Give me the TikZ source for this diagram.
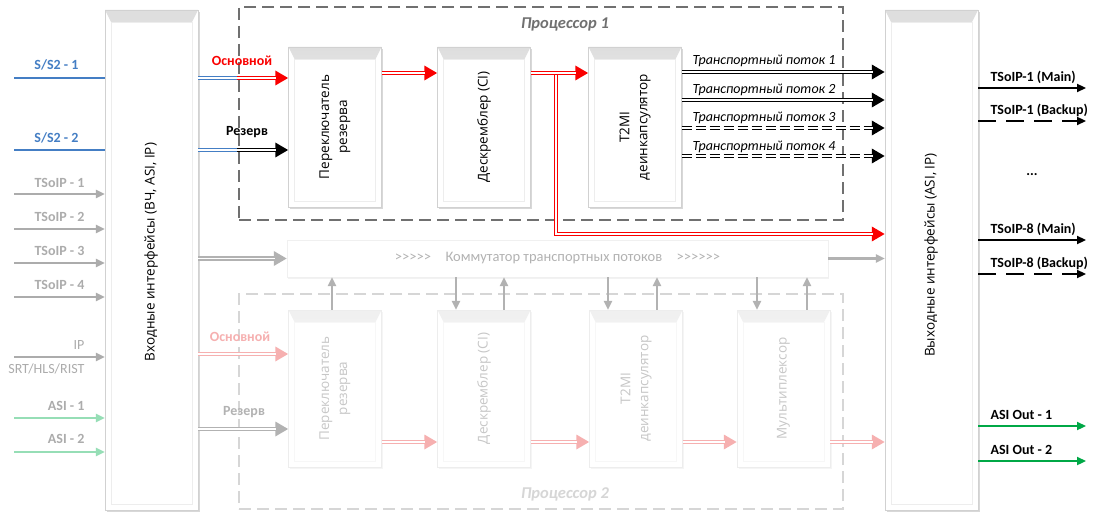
\documentclass[tikz,border=0pt]{standalone}
\usepackage{fontspec}
\setmainfont{Carlito}
\newfontfamily\blockfont{Open Sans}
\usepackage{tikz}
\usetikzlibrary{arrows.meta,shadows}

\definecolor{ssblue}{RGB}{68,126,196}
\definecolor{tsgray}{RGB}{172,172,172}
\definecolor{asigreen}{RGB}{150,222,182}
\definecolor{outgreen}{RGB}{0,168,70}
\definecolor{mainred}{RGB}{250,0,0}
\definecolor{fadered}{RGB}{246,176,176}
\definecolor{procgray}{RGB}{112,112,112}
\definecolor{procfade}{RGB}{214,214,214}

\begin{document}
\begin{tikzpicture}[x=1pt,y=-1pt,
    boxbase/.style={fill=white,minimum width=93pt,minimum height=160pt,inner sep=0pt},
    bevel/.style 2 args={path picture={
        \shade[top color=#1,bottom color=white]
          (path picture bounding box.north west) -- (path picture bounding box.north east)
          -- ([xshift=-6pt,yshift=-12pt]path picture bounding box.north east)
          -- ([xshift=6pt,yshift=-12pt]path picture bounding box.north west) -- cycle;
        \draw[#2] ([xshift=6pt,yshift=-12pt]path picture bounding box.north west)
          rectangle ([xshift=-6pt,yshift=6pt]path picture bounding box.south east);
      }},
    blk/.style={boxbase,draw=black!18,bevel={black!13}{black!7},
      drop shadow={shadow xshift=1.5pt,shadow yshift=-2pt,opacity=.3}},
    blkfade/.style={boxbase,draw=black!7,bevel={black!6}{black!3},
      drop shadow={shadow xshift=1.5pt,shadow yshift=-2pt,opacity=.08}},
    blktxt/.style={rotate=90,align=center,font=\blockfont\fontsize{13.5}{18}\selectfont},
    proc/.style={minimum width=604pt,dash pattern=on 12pt off 6pt,line width=2pt},
    lab/.style={font=\bfseries\fontsize{14}{16}\selectfont},
    slab/.style={font=\itshape\fontsize{14}{16}\selectfont},
    dblarr/.style={draw=#1,line width=4.4pt,-{Triangle[length=13pt,width=14pt]},
      postaction={draw=white,line width=1.6pt,-,shorten >=12pt}},
    dblline/.style={draw=#1,line width=4.4pt,
      postaction={draw=white,line width=1.6pt}},
    garr/.style={draw=#1,line width=2.4pt,-{Triangle[length=9pt,width=8pt]}},
    oarr/.style={draw=#1,line width=2.2pt,-{Triangle[length=9pt,width=8pt]}},
]
\fill[white] (0,0) rectangle (1105,513);
\useasboundingbox (0,0) rectangle (1105,513);

% processors
\node[proc,draw=procgray,minimum height=213pt] (proc1) at (541,113.5) {};
\node[proc,draw=procfade,minimum height=215pt] (proc2) at (541,401.5) {};
\node[text=procgray,font=\bfseries\itshape\fontsize{16.5}{18}\selectfont] (p1lab) at (565,24) {Процессор 1};
\node[text=procfade,font=\bfseries\itshape\fontsize{16.5}{18}\selectfont] (p2lab) at (565,494) {Процессор 2};

% interfaces
\node[blk,minimum height=500pt] (inif) at (151.5,260) {};
\node[blktxt] at (151,252) {Входные интерфейсы (ВЧ, ASI, IP)};
\node[blk,minimum height=500pt] (outif) at (931.5,260) {};
\node[blktxt] at (931,255) {Выходные интерфейсы (ASI, IP)};

% processor 1 blocks
\node[blk] (sw1) at (335,127) {};
\node[blktxt] at (sw1) {Переключатель\\резерва};
\node[blk] (dsc1) at (484,127) {};
\node[blktxt] at (dsc1) {Дескремблер (CI)};
\node[blk] (t2m1) at (635,127) {};
\node[blktxt] at (t2m1) {T2MI\\деинкапсулятор};

% commutator
\node[fill=white,draw=black!6,minimum width=541pt,minimum height=37pt,
  drop shadow={shadow xshift=1pt,shadow yshift=-2pt,opacity=.1},
  text=black!30,font=\fontsize{14.5}{16}\selectfont] (comm) at (557.5,258.5)
  {>{}>{}>{}>{}>\quad Коммутатор транспортных потоков\quad >{}>{}>{}>{}>{}>};

% processor 2 blocks
\node[blkfade,minimum height=157pt] (sw2) at (335,388.5) {};
\node[blktxt,text=black!22] at (sw2) {Переключатель\\резерва};
\node[blkfade,minimum height=157pt] (dsc2) at (484,388.5) {};
\node[blktxt,text=black!22] at (dsc2) {Дескремблер (CI)};
\node[blkfade,minimum height=157pt] (t2m2) at (636,388.5) {};
\node[blktxt,text=black!22] at (t2m2) {T2MI\\деинкапсулятор};
\node[blkfade,minimum height=157pt] (mux2) at (783.5,388.5) {};
\node[blktxt,text=black!22] at (mux2) {Мультиплексор};

% inputs
\coordinate (s1) at (14,78);
\coordinate (s2) at (14,150);
\node[lab,text=ssblue,anchor=east] (ls1) at (82,65) {S/S2 - 1};
\draw[ssblue,line width=2.4pt] (s1) -- (inif.west |- s1);
\node[lab,text=ssblue,anchor=east] (ls2) at (82,138) {S/S2 - 2};
\draw[ssblue,line width=2.4pt] (s2) -- (inif.west |- s2);

\coordinate (t1) at (14,194);
\coordinate (t2) at (14,229);
\coordinate (t3) at (14,263);
\coordinate (t4) at (14,297);
\node[lab,text=tsgray,anchor=east] (lt1) at (88,183) {TSoIP - 1};
\draw[garr=tsgray] (t1) -- (inif.west |- t1);
\node[lab,text=tsgray,anchor=east] (lt2) at (88,217) {TSoIP - 2};
\draw[garr=tsgray] (t2) -- (inif.west |- t2);
\node[lab,text=tsgray,anchor=east] (lt3) at (88,251) {TSoIP - 3};
\draw[garr=tsgray] (t3) -- (inif.west |- t3);
\node[lab,text=tsgray,anchor=east] (lt4) at (88,285) {TSoIP - 4};
\draw[garr=tsgray] (t4) -- (inif.west |- t4);

\coordinate (ip) at (14,357);
\node[lab,text=tsgray,anchor=east,font=\fontsize{14}{16}\selectfont] (lip) at (88,345) {IP};
\node[lab,text=tsgray,anchor=east,font=\fontsize{14}{16}\selectfont] (lsrt) at (88,369) {SRT/HLS/RIST};
\draw[garr=tsgray] (ip) -- (inif.west |- ip);

\coordinate (a1) at (14,418);
\coordinate (a2) at (14,452);
\node[lab,text=tsgray,anchor=east] (la1) at (88,406) {ASI - 1};
\draw[garr=asigreen] (a1) -- (inif.west |- a1);
\node[lab,text=tsgray,anchor=east] (la2) at (88,439) {ASI - 2};
\draw[garr=asigreen] (a2) -- (inif.west |- a2);

% processor 1 flow
\coordinate (msplit) at (237,78);
\coordinate (rsplit) at (237,150);
\draw[dblline=ssblue] (inif.east |- msplit) -- (msplit);
\draw[dblarr=mainred] (msplit) -- (sw1.west |- msplit);
\node[lab,text=mainred] (lmain1) at (242,61) {Основной};
\draw[dblline=ssblue] (inif.east |- rsplit) -- (rsplit);
\draw[dblarr=black] (rsplit) -- (sw1.west |- rsplit);
\node[lab] (lres1) at (247,132) {Резерв};

\coordinate (branch) at (556,73);
\draw[dblarr=mainred] (branch) |- (outif.west |- 0,234);
\draw[dblarr=mainred] (sw1.east |- 0,73) -- (dsc1.west |- 0,73);
\draw[dblarr=mainred] (dsc1.east |- 0,73) -- (t2m1.west |- 0,73);

\draw[dblarr=black] (t2m1.east |- 0,72) -- (outif.west |- 0,72);
\node[slab] (ts1) at (764,61) {Транспортный поток 1};
\draw[dblarr=black] (t2m1.east |- 0,100) -- (outif.west |- 0,100);
\node[slab] (ts2) at (764,90) {Транспортный поток 2};
\draw[dblarr=black,dash pattern=on 10pt off 4pt] (t2m1.east |- 0,128) -- (outif.west |- 0,128);
\node[slab] (ts3) at (764,118) {Транспортный поток 3};
\draw[dblarr=black,dash pattern=on 10pt off 4pt] (t2m1.east |- 0,156) -- (outif.west |- 0,156);
\node[slab] (ts4) at (764,147) {Транспортный поток 4};

% commutator flow
\draw[dblarr=black!30] (inif.east |- comm.west) -- (comm.west);
\draw[garr=black!30] (comm.east) -- (outif.west |- comm.east);

% processor 2 flow
\draw[dblarr=fadered] (inif.east |- 0,354) -- (sw2.west |- 0,354);
\node[lab,text=fadered] (lmain2) at (240,337) {Основной};
\draw[dblarr=black!30] (inif.east |- 0,429) -- (sw2.west |- 0,429);
\node[lab,text=black!30] (lres2) at (244,412) {Резерв};
\draw[dblarr=fadered] (sw2.east |- 0,442) -- (dsc2.west |- 0,442);
\draw[dblarr=fadered] (dsc2.east |- 0,442) -- (t2m2.west |- 0,442);
\draw[dblarr=fadered] (t2m2.east |- 0,442) -- (mux2.west |- 0,442);
\draw[dblarr=fadered] (mux2.east |- 0,442) -- (outif.west |- 0,442);

\draw[garr=black!30] (sw2.north -| 332,0) -- (comm.south -| 332,0);
\draw[garr=black!30] (comm.south -| 456,0) -- (dsc2.north -| 456,0);
\draw[garr=black!30] (dsc2.north -| 504,0) -- (comm.south -| 504,0);
\draw[garr=black!30] (comm.south -| 608,0) -- (t2m2.north -| 608,0);
\draw[garr=black!30] (t2m2.north -| 657,0) -- (comm.south -| 657,0);
\draw[garr=black!30] (comm.south -| 757,0) -- (mux2.north -| 757,0);
\draw[garr=black!30] (mux2.north -| 807,0) -- (comm.south -| 807,0);

% outputs
\coordinate (o1) at (1086,88);
\coordinate (o2) at (1086,121);
\coordinate (o8) at (1086,240);
\coordinate (o9) at (1086,274);
\coordinate (g1) at (1086,426);
\coordinate (g2) at (1086,461);
\node[lab,anchor=west] (lo1) at (987,77) {TSoIP-1 (Main)};
\draw[oarr=black] (outif.east |- o1) -- (o1);
\node[lab,anchor=west] (lo2) at (987,110) {TSoIP-1 (Backup)};
\draw[oarr=black,dash pattern=on 18pt off 10pt] (outif.east |- o2) -- (o2);
\node[lab] (ldots) at (1032,175) {...};
\node[lab,anchor=west] (lo8) at (987,229) {TSoIP-8 (Main)};
\draw[oarr=black] (outif.east |- o8) -- (o8);
\node[lab,anchor=west] (lo9) at (987,263) {TSoIP-8 (Backup)};
\draw[oarr=black,dash pattern=on 18pt off 10pt] (outif.east |- o9) -- (o9);
\node[lab,anchor=west] (lg1) at (987,415) {ASI Out - 1};
\draw[oarr=outgreen] (outif.east |- g1) -- (g1);
\node[lab,anchor=west] (lg2) at (987,450) {ASI Out - 2};
\draw[oarr=outgreen] (outif.east |- g2) -- (g2);
\end{tikzpicture}
\end{document}
